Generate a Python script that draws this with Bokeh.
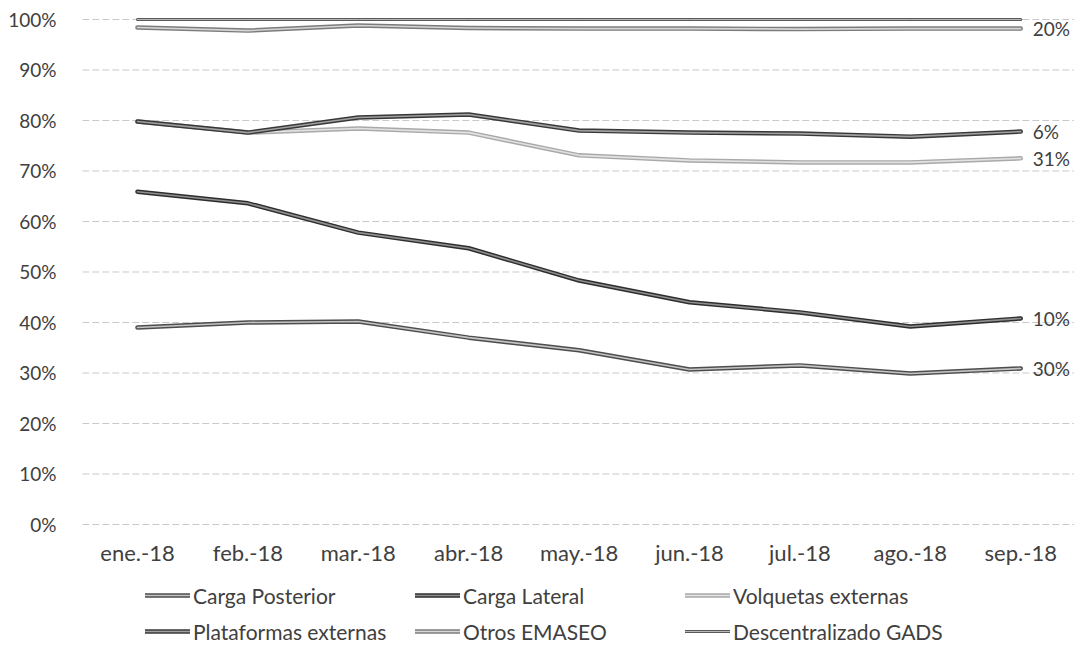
from bokeh.plotting import figure
from bokeh.models import (Range1d, FixedTicker, PrintfTickFormatter, Legend, LegendItem)
from bokeh.core.properties import value
from bokeh.embed import file_html
from bokeh.resources import INLINE

# ---- data (cumulative share levels, %) ----
months = ["ene.-18", "feb.-18", "mar.-18", "abr.-18", "may.-18",
          "jun.-18", "jul.-18", "ago.-18", "sep.-18"]
carga_posterior = [39.0, 40.0, 40.2, 37.0, 34.5, 30.7, 31.5, 29.9, 30.9]
carga_lateral = [65.9, 63.6, 57.8, 54.7, 48.3, 44.0, 42.0, 39.2, 40.8]
volquetas_externas = [79.8, 77.6, 78.4, 77.6, 73.1, 72.1, 71.7, 71.7, 72.5]
plataformas_externas = [79.8, 77.6, 80.6, 81.2, 78.0, 77.6, 77.4, 76.8, 77.8]
otros_emaseo = [98.4, 97.8, 98.8, 98.3, 98.2, 98.2, 98.1, 98.2, 98.2]
descentralizado_gads = [100, 100, 100, 100, 100, 100, 100, 100, 100]
series_names = ["Carga Posterior", "Carga Lateral", "Volquetas externas",
                "Plataformas externas", "Otros EMASEO", "Descentralizado GADS"]
end_labels = ["30%", "10%", "31%", "6%", "20%", ""]
y_ticks = [0, 10, 20, 30, 40, 50, 60, 70, 80, 90, 100]

series = [carga_posterior, carga_lateral, volquetas_externas,
          plataformas_externas, otros_emaseo, descentralizado_gads]

# styles: (outer colour, outer width, inner colour, inner width)
styles = [
    ("#4d4d4d", 4.5, "#c4c4c4", 1.6),
    ("#2e2e2e", 4.5, "#8f8f8f", 1.6),
    ("#a9a9a9", 4.5, "#e2e2e2", 1.6),
    ("#383838", 4.5, "#a0a0a0", 1.6),
    ("#7c7c7c", 4.5, "#d6d6d6", 1.6),
    ("#5a5a5a", 3.0, "#b8b8b8", 1.0),
]

FONT = "Lato"
TXT = "#404040"

xs = list(range(len(months)))

p = figure(width=1074, height=650,
           x_range=Range1d(-0.498, 8.487), y_range=Range1d(-24.95, 103.76),
           output_backend="svg", toolbar_location=None,
           min_border_left=82, min_border_right=0, min_border_top=0,
           min_border_bottom=0)
p.outline_line_color = None
p.background_fill_color = "white"
p.border_fill_color = "white"
p.xgrid.visible = False
p.ygrid.visible = False

# gridlines
p.segment(x0=[-0.5] * len(y_ticks), x1=[8.5] * len(y_ticks), y0=y_ticks, y1=y_ticks,
          line_color="#c9c9c9", line_width=1, line_dash="7 3")

items = []
for name, ys, (oc, ow, ic, iw) in zip(series_names, series, styles):
    r1 = p.line(xs, ys, line_color=oc, line_width=ow, line_cap="round", line_join="round")
    r2 = p.line(xs, ys, line_color=ic, line_width=iw, line_cap="round", line_join="round")
    items.append(LegendItem(label=name, renderers=[r1, r2]))

# end labels
last_x = [xs[-1]] * len(series)
last_y = [s[-1] for s in series]
p.text(x=last_x, y=last_y, text=end_labels, x_offset=12,
       text_font=value(FONT), text_font_size="19px", text_color=TXT,
       text_baseline="middle", text_align="left")

# axes
p.xaxis.ticker = FixedTicker(ticks=xs)
p.xaxis.major_label_overrides = {i: m for i, m in enumerate(months)}
p.xaxis.fixed_location = -1.2
p.yaxis.ticker = FixedTicker(ticks=y_ticks)
p.yaxis.formatter = PrintfTickFormatter(format="%d%%")
for ax in (p.xaxis[0], p.yaxis[0]):
    ax.axis_line_color = None
    ax.major_tick_line_color = None
    ax.minor_tick_line_color = None
    ax.major_label_text_font = FONT
    ax.major_label_text_color = TXT
p.yaxis.major_label_text_font_size = "19px"
p.xaxis.major_label_text_font_size = "22px"
p.xaxis.major_label_standoff = 2
p.yaxis.major_label_standoff = 20

legend = Legend(items=items, orientation="horizontal", ncols=3,
                location=(63, 6), glyph_width=45, glyph_height=26,
                label_standoff=3, label_width=212, spacing=10,
                padding=6, margin=0,
                label_text_font=FONT, label_text_font_size="21px",
                label_text_color=TXT,
                border_line_color=None, background_fill_alpha=0)
p.add_layout(legend, "center")

open("out.html", "w").write(file_html(p, INLINE))
